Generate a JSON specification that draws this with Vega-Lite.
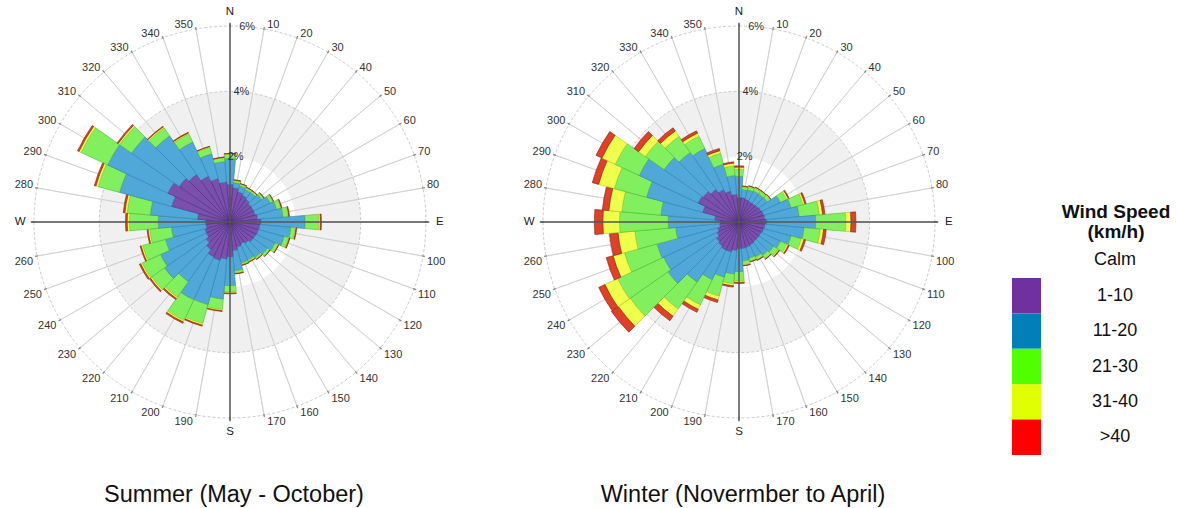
{
"$schema": "https://vega.github.io/schema/vega-lite/v6.json",
"padding": 0,
"background": "#ffffff",
"config": {"view": {"stroke": null}, "font": "Liberation Sans"},
"datasets": {
"rose": [
{"season":"Summer","dir":0,"1-10":1.15,"11-20":0.8,"21-30":0.12,"31-40":0.02,">40":0.01},
{"season":"Summer","dir":10,"1-10":1.05,"11-20":0.16,"21-30":0.07,"31-40":0.01,">40":0.01},
{"season":"Summer","dir":20,"1-10":0.95,"11-20":0.19,"21-30":0.06,"31-40":0.01,">40":0.01},
{"season":"Summer","dir":30,"1-10":0.9,"11-20":0.2,"21-30":0.06,"31-40":0.01,">40":0.01},
{"season":"Summer","dir":40,"1-10":0.85,"11-20":0.25,"21-30":0.06,"31-40":0.01,">40":0.01},
{"season":"Summer","dir":50,"1-10":0.8,"11-20":0.39,"21-30":0.07,"31-40":0.01,">40":0.01},
{"season":"Summer","dir":60,"1-10":0.8,"11-20":0.56,"21-30":0.09,"31-40":0.02,">40":0.01},
{"season":"Summer","dir":70,"1-10":0.8,"11-20":0.68,"21-30":0.13,"31-40":0.02,">40":0.02},
{"season":"Summer","dir":80,"1-10":0.85,"11-20":0.78,"21-30":0.16,"31-40":0.02,">40":0.02},
{"season":"Summer","dir":90,"1-10":0.95,"11-20":1.35,"21-30":0.42,"31-40":0.05,">40":0.03},
{"season":"Summer","dir":100,"1-10":0.92,"11-20":0.95,"21-30":0.14,"31-40":0.02,">40":0.02},
{"season":"Summer","dir":110,"1-10":0.9,"11-20":0.82,"21-30":0.14,"31-40":0.02,">40":0.02},
{"season":"Summer","dir":120,"1-10":0.88,"11-20":0.64,"21-30":0.1,"31-40":0.02,">40":0.01},
{"season":"Summer","dir":130,"1-10":0.87,"11-20":0.53,"21-30":0.08,"31-40":0.01,">40":0.01},
{"season":"Summer","dir":140,"1-10":0.8,"11-20":0.53,"21-30":0.06,"31-40":0.01,">40":0.01},
{"season":"Summer","dir":150,"1-10":0.75,"11-20":0.53,"21-30":0.06,"31-40":0.01,">40":0.01},
{"season":"Summer","dir":160,"1-10":0.8,"11-20":0.5,"21-30":0.06,"31-40":0.01,">40":0.01},
{"season":"Summer","dir":170,"1-10":0.88,"11-20":0.62,"21-30":0.08,"31-40":0.01,">40":0.01},
{"season":"Summer","dir":180,"1-10":1.07,"11-20":0.88,"21-30":0.2,"31-40":0.03,">40":0.02},
{"season":"Summer","dir":190,"1-10":1.14,"11-20":1.23,"21-30":0.32,"31-40":0.04,">40":0.02},
{"season":"Summer","dir":200,"1-10":1.22,"11-20":1.4,"21-30":0.6,"31-40":0.05,">40":0.03},
{"season":"Summer","dir":210,"1-10":1.18,"11-20":1.45,"21-30":0.7,"31-40":0.05,">40":0.04},
{"season":"Summer","dir":220,"1-10":1.03,"11-20":1.2,"21-30":0.58,"31-40":0.05,">40":0.04},
{"season":"Summer","dir":230,"1-10":0.9,"11-20":1.55,"21-30":0.48,"31-40":0.05,">40":0.04},
{"season":"Summer","dir":240,"1-10":0.8,"11-20":1.55,"21-30":0.62,"31-40":0.05,">40":0.04},
{"season":"Summer","dir":250,"1-10":0.8,"11-20":1.25,"21-30":0.72,"31-40":0.05,">40":0.03},
{"season":"Summer","dir":260,"1-10":0.74,"11-20":1.06,"21-30":0.67,"31-40":0.05,">40":0.03},
{"season":"Summer","dir":270,"1-10":0.75,"11-20":1.45,"21-30":0.88,"31-40":0.07,">40":0.05},
{"season":"Summer","dir":280,"1-10":1.0,"11-20":1.45,"21-30":0.71,"31-40":0.07,">40":0.05},
{"season":"Summer","dir":290,"1-10":1.85,"11-20":1.65,"21-30":0.68,"31-40":0.07,">40":0.05},
{"season":"Summer","dir":300,"1-10":2.1,"11-20":2.03,"21-30":0.9,"31-40":0.07,">40":0.05},
{"season":"Summer","dir":310,"1-10":1.9,"11-20":1.78,"21-30":0.45,"31-40":0.05,">40":0.04},
{"season":"Summer","dir":320,"1-10":1.78,"11-20":1.44,"21-30":0.3,"31-40":0.04,">40":0.02},
{"season":"Summer","dir":330,"1-10":1.55,"11-20":1.15,"21-30":0.28,"31-40":0.03,">40":0.02},
{"season":"Summer","dir":340,"1-10":1.38,"11-20":0.78,"21-30":0.21,"31-40":0.02,">40":0.01},
{"season":"Summer","dir":350,"1-10":1.23,"11-20":0.63,"21-30":0.12,"31-40":0.01,">40":0.01},
{"season":"Winter","dir":0,"1-10":0.75,"11-20":0.65,"21-30":0.22,"31-40":0.06,">40":0.04},
{"season":"Winter","dir":10,"1-10":0.75,"11-20":0.25,"21-30":0.08,"31-40":0.02,">40":0.01},
{"season":"Winter","dir":20,"1-10":0.72,"11-20":0.3,"21-30":0.1,"31-40":0.02,">40":0.01},
{"season":"Winter","dir":30,"1-10":0.7,"11-20":0.35,"21-30":0.1,"31-40":0.02,">40":0.01},
{"season":"Winter","dir":40,"1-10":0.7,"11-20":0.35,"21-30":0.1,"31-40":0.02,">40":0.01},
{"season":"Winter","dir":50,"1-10":0.72,"11-20":0.35,"21-30":0.1,"31-40":0.02,">40":0.01},
{"season":"Winter","dir":60,"1-10":0.75,"11-20":0.65,"21-30":0.22,"31-40":0.05,">40":0.03},
{"season":"Winter","dir":70,"1-10":0.78,"11-20":0.87,"21-30":0.38,"31-40":0.06,">40":0.04},
{"season":"Winter","dir":80,"1-10":0.8,"11-20":1.05,"21-30":0.62,"31-40":0.1,">40":0.07},
{"season":"Winter","dir":90,"1-10":0.85,"11-20":1.5,"21-30":0.92,"31-40":0.16,">40":0.15},
{"season":"Winter","dir":100,"1-10":0.8,"11-20":1.2,"21-30":0.5,"31-40":0.1,">40":0.08},
{"season":"Winter","dir":110,"1-10":0.78,"11-20":0.87,"21-30":0.33,"31-40":0.08,">40":0.05},
{"season":"Winter","dir":120,"1-10":0.75,"11-20":0.65,"21-30":0.22,"31-40":0.05,">40":0.03},
{"season":"Winter","dir":130,"1-10":0.75,"11-20":0.55,"21-30":0.17,"31-40":0.03,">40":0.02},
{"season":"Winter","dir":140,"1-10":0.75,"11-20":0.5,"21-30":0.12,"31-40":0.02,">40":0.01},
{"season":"Winter","dir":150,"1-10":0.78,"11-20":0.4,"21-30":0.1,"31-40":0.01,">40":0.01},
{"season":"Winter","dir":160,"1-10":0.8,"11-20":0.35,"21-30":0.1,"31-40":0.01,">40":0.01},
{"season":"Winter","dir":170,"1-10":0.82,"11-20":0.38,"21-30":0.12,"31-40":0.02,">40":0.01},
{"season":"Winter","dir":180,"1-10":0.82,"11-20":0.7,"21-30":0.28,"31-40":0.05,">40":0.03},
{"season":"Winter","dir":190,"1-10":0.88,"11-20":0.72,"21-30":0.3,"31-40":0.06,">40":0.04},
{"season":"Winter","dir":200,"1-10":0.95,"11-20":0.8,"21-30":0.6,"31-40":0.12,">40":0.08},
{"season":"Winter","dir":210,"1-10":0.95,"11-20":1.0,"21-30":0.85,"31-40":0.15,">40":0.1},
{"season":"Winter","dir":220,"1-10":0.9,"11-20":1.35,"21-30":1.0,"31-40":0.27,">40":0.17},
{"season":"Winter","dir":230,"1-10":0.85,"11-20":1.81,"21-30":1.41,"31-40":0.44,">40":0.26},
{"season":"Winter","dir":240,"1-10":0.75,"11-20":1.8,"21-30":1.55,"31-40":0.43,">40":0.21},
{"season":"Winter","dir":250,"1-10":0.68,"11-20":1.92,"21-30":1.03,"31-40":0.36,">40":0.22},
{"season":"Winter","dir":260,"1-10":0.6,"11-20":1.35,"21-30":1.25,"31-40":0.52,">40":0.26},
{"season":"Winter","dir":270,"1-10":0.58,"11-20":1.59,"21-30":1.49,"31-40":0.51,">40":0.26},
{"season":"Winter","dir":280,"1-10":0.75,"11-20":1.65,"21-30":1.2,"31-40":0.4,">40":0.2},
{"season":"Winter","dir":290,"1-10":1.15,"11-20":1.78,"21-30":1.02,"31-40":0.5,">40":0.2},
{"season":"Winter","dir":300,"1-10":1.38,"11-20":1.99,"21-30":0.81,"31-40":0.45,">40":0.2},
{"season":"Winter","dir":310,"1-10":1.33,"11-20":1.47,"21-30":0.7,"31-40":0.25,">40":0.17},
{"season":"Winter","dir":320,"1-10":1.22,"11-20":1.38,"21-30":0.6,"31-40":0.2,">40":0.12},
{"season":"Winter","dir":330,"1-10":1.1,"11-20":1.38,"21-30":0.42,"31-40":0.1,">40":0.08},
{"season":"Winter","dir":340,"1-10":0.98,"11-20":0.85,"21-30":0.35,"31-40":0.08,">40":0.07},
{"season":"Winter","dir":350,"1-10":0.85,"11-20":0.58,"21-30":0.3,"31-40":0.08,">40":0.04}
],
"rings": [{"pct":2,"label":"2%"},{"pct":4,"label":"4%"},{"pct":6,"label":"6%"}],
"compass": [{"dir":0,"label":"N"},{"dir":90,"label":"E"},{"dir":180,"label":"S"},{"dir":270,"label":"W"}],
"speeds": [{"speed":"Calm"},{"speed":"1-10"},{"speed":"11-20"},{"speed":"21-30"},{"speed":"31-40"},{"speed":">40"}]
},
"spacing": 43,
"hconcat": [
{"bounds": "flush", "spacing": 49, "hconcat": [
{
"width": 460, "height": 444,
"title": {"text": "Summer (May - October)", "orient": "bottom", "frame": "group", "anchor": "middle", "offset": 39, "dx": 4, "fontSize": 23.5, "fontWeight": "normal", "font": "Liberation Sans", "color": "#111111"},
"layer": [
{"data": {"name": "rings"}, "transform": [{"filter": "datum.pct === 4"}],
 "mark": {"type": "arc", "fill": "#f0f0f0"},
 "encoding": {
  "theta": {"datum": 0, "type": "quantitative", "scale": {"domain": [0, 360], "range": [0, 6.283185307179586]}},
  "theta2": {"datum": 360},
  "radius": {"field": "pct", "type": "quantitative", "stack": null, "scale": {"type": "linear", "domain": [0, 6], "range": [0, 196], "zero": true, "nice": false}},
  "radius2": {"datum": 2}}},
{"data": {"name": "rings"}, "transform": [{"filter": "datum.pct >= 4"}],
 "mark": {"type": "arc", "filled": false, "stroke": "#bdbdbd", "strokeWidth": 0.8, "strokeDash": [3, 2]},
 "encoding": {
  "theta": {"datum": 0, "type": "quantitative", "scale": {"domain": [0, 360], "range": [0, 6.283185307179586]}},
  "theta2": {"datum": 360},
  "radius": {"field": "pct", "type": "quantitative", "stack": null, "scale": {"type": "linear", "domain": [0, 6], "range": [0, 196], "zero": true, "nice": false}}}},
{"data": {"name": "rose"}, "transform": [{"filter": "datum.season === 'Summer'"}],
 "mark": {"type": "arc", "filled": false, "stroke": "#cfcfcf", "strokeWidth": 0.8},
 "encoding": {
  "theta": {"field": "dir", "type": "quantitative", "stack": null, "scale": {"domain": [0, 360], "range": [0, 6.283185307179586]}},
  "theta2": {"field": "dir"},
  "radius": {"datum": 6, "type": "quantitative", "scale": {"type": "linear", "domain": [0, 6], "range": [0, 196], "zero": true, "nice": false}},
  "radius2": {"datum": 0}}},
{"data": {"name": "rose"},
 "transform": [
  {"filter": "datum.season === 'Summer'"},
  {"fold": ["1-10", "11-20", "21-30", "31-40", ">40"], "as": ["speed", "pct"]},
  {"stack": "pct", "groupby": ["dir"], "sort": [{"field": "speed", "order": "ascending"}], "as": ["r0", "r1"]},
  {"calculate": "datum.dir - 5", "as": "t0"},
  {"calculate": "datum.dir + 5", "as": "t1"}],
 "mark": {"type": "arc", "strokeWidth": 0.6},
 "encoding": {
  "theta": {"field": "t0", "type": "quantitative", "stack": null, "scale": {"domain": [0, 360], "range": [0, 6.283185307179586]}},
  "theta2": {"field": "t1"},
  "radius": {"field": "r1", "type": "quantitative", "stack": null, "scale": {"type": "linear", "domain": [0, 6], "range": [0, 196], "zero": true, "nice": false}},
  "radius2": {"field": "r0"},
  "fill": {"field": "speed", "type": "nominal", "scale": {"domain": ["1-10", "11-20", "21-30", "31-40", ">40"], "range": ["#7b4fae", "#50a8d8", "#82f05e", "#eeff4c", "#e0402a"]}, "legend": null},
  "stroke": {"field": "speed", "type": "nominal", "scale": {"domain": ["1-10", "11-20", "21-30", "31-40", ">40"], "range": ["#4c2a7c", "#2f7fb0", "#4fb834", "#b9c224", "#7e2412"]}, "legend": null}}},
{"data": {"name": "rose"}, "transform": [{"filter": "datum.season === 'Summer'"}],
 "mark": {"type": "arc", "filled": false, "stroke": "#888888", "strokeWidth": 1.3},
 "encoding": {
  "theta": {"field": "dir", "type": "quantitative", "stack": null, "scale": {"domain": [0, 360], "range": [0, 6.283185307179586]}},
  "theta2": {"field": "dir"},
  "radius": {"datum": 6.06, "type": "quantitative", "scale": {"type": "linear", "domain": [0, 6], "range": [0, 196], "zero": true, "nice": false}},
  "radius2": {"datum": 5.97}}},
{"data": {"name": "compass"},
 "mark": {"type": "arc", "filled": false, "stroke": "#555555", "strokeWidth": 1.4},
 "encoding": {
  "theta": {"field": "dir", "type": "quantitative", "stack": null, "scale": {"domain": [0, 360], "range": [0, 6.283185307179586]}},
  "theta2": {"field": "dir"},
  "radius": {"datum": 6.1, "type": "quantitative", "scale": {"type": "linear", "domain": [0, 6], "range": [0, 196], "zero": true, "nice": false}},
  "radius2": {"datum": 0}}},
{"data": {"name": "rings"},
 "mark": {"type": "text", "fontSize": 11, "color": "#333333", "align": "center", "baseline": "middle"},
 "encoding": {
  "theta": {"datum": 5, "type": "quantitative", "scale": {"domain": [0, 360], "range": [0, 6.283185307179586]}},
  "radius": {"field": "pct", "type": "quantitative", "stack": null, "scale": {"type": "linear", "domain": [0, 6], "range": [0, 196], "zero": true, "nice": false}},
  "text": {"field": "label", "type": "nominal"}}},
{"data": {"name": "compass"},
 "mark": {"type": "text", "fontSize": 11.5, "color": "#222222", "align": "center", "baseline": "middle"},
 "encoding": {
  "theta": {"field": "dir", "type": "quantitative", "stack": null, "scale": {"domain": [0, 360], "range": [0, 6.283185307179586]}},
  "radius": {"datum": 6.42, "type": "quantitative", "scale": {"type": "linear", "domain": [0, 6], "range": [0, 196], "zero": true, "nice": false}},
  "text": {"field": "label", "type": "nominal"}}},
{"data": {"name": "rose"}, "transform": [{"filter": "datum.season === 'Summer' && datum.dir > 0 && datum.dir < 90"}],
 "mark": {"type": "text", "fontSize": 11, "color": "#333333", "align": "left", "baseline": "middle", "dx": 3, "dy": -3},
 "encoding": {
  "theta": {"field": "dir", "type": "quantitative", "stack": null, "scale": {"domain": [0, 360], "range": [0, 6.283185307179586]}},
  "radius": {"datum": 6.03, "type": "quantitative", "scale": {"type": "linear", "domain": [0, 6], "range": [0, 196], "zero": true, "nice": false}},
  "text": {"field": "dir", "type": "quantitative", "format": "d"}}},
{"data": {"name": "rose"}, "transform": [{"filter": "datum.season === 'Summer' && datum.dir > 90 && datum.dir < 180"}],
 "mark": {"type": "text", "fontSize": 11, "color": "#333333", "align": "left", "baseline": "middle", "dx": 3, "dy": 6},
 "encoding": {
  "theta": {"field": "dir", "type": "quantitative", "stack": null, "scale": {"domain": [0, 360], "range": [0, 6.283185307179586]}},
  "radius": {"datum": 6.03, "type": "quantitative", "scale": {"type": "linear", "domain": [0, 6], "range": [0, 196], "zero": true, "nice": false}},
  "text": {"field": "dir", "type": "quantitative", "format": "d"}}},
{"data": {"name": "rose"}, "transform": [{"filter": "datum.season === 'Summer' && datum.dir > 180 && datum.dir < 270"}],
 "mark": {"type": "text", "fontSize": 11, "color": "#333333", "align": "right", "baseline": "middle", "dx": -3, "dy": 6},
 "encoding": {
  "theta": {"field": "dir", "type": "quantitative", "stack": null, "scale": {"domain": [0, 360], "range": [0, 6.283185307179586]}},
  "radius": {"datum": 6.03, "type": "quantitative", "scale": {"type": "linear", "domain": [0, 6], "range": [0, 196], "zero": true, "nice": false}},
  "text": {"field": "dir", "type": "quantitative", "format": "d"}}},
{"data": {"name": "rose"}, "transform": [{"filter": "datum.season === 'Summer' && datum.dir > 270"}],
 "mark": {"type": "text", "fontSize": 11, "color": "#333333", "align": "right", "baseline": "middle", "dx": -3, "dy": -3},
 "encoding": {
  "theta": {"field": "dir", "type": "quantitative", "stack": null, "scale": {"domain": [0, 360], "range": [0, 6.283185307179586]}},
  "radius": {"datum": 6.03, "type": "quantitative", "scale": {"type": "linear", "domain": [0, 6], "range": [0, 196], "zero": true, "nice": false}},
  "text": {"field": "dir", "type": "quantitative", "format": "d"}}}
]
},
{
"width": 460, "height": 444,
"title": {"text": "Winter (Novermber to April)", "orient": "bottom", "frame": "group", "anchor": "middle", "offset": 39, "dx": 4, "fontSize": 23.5, "fontWeight": "normal", "font": "Liberation Sans", "color": "#111111"},
"layer": [
{"data": {"name": "rings"}, "transform": [{"filter": "datum.pct === 4"}],
 "mark": {"type": "arc", "fill": "#f0f0f0"},
 "encoding": {
  "theta": {"datum": 0, "type": "quantitative", "scale": {"domain": [0, 360], "range": [0, 6.283185307179586]}},
  "theta2": {"datum": 360},
  "radius": {"field": "pct", "type": "quantitative", "stack": null, "scale": {"type": "linear", "domain": [0, 6], "range": [0, 196], "zero": true, "nice": false}},
  "radius2": {"datum": 2}}},
{"data": {"name": "rings"}, "transform": [{"filter": "datum.pct >= 4"}],
 "mark": {"type": "arc", "filled": false, "stroke": "#bdbdbd", "strokeWidth": 0.8, "strokeDash": [3, 2]},
 "encoding": {
  "theta": {"datum": 0, "type": "quantitative", "scale": {"domain": [0, 360], "range": [0, 6.283185307179586]}},
  "theta2": {"datum": 360},
  "radius": {"field": "pct", "type": "quantitative", "stack": null, "scale": {"type": "linear", "domain": [0, 6], "range": [0, 196], "zero": true, "nice": false}}}},
{"data": {"name": "rose"}, "transform": [{"filter": "datum.season === 'Winter'"}],
 "mark": {"type": "arc", "filled": false, "stroke": "#cfcfcf", "strokeWidth": 0.8},
 "encoding": {
  "theta": {"field": "dir", "type": "quantitative", "stack": null, "scale": {"domain": [0, 360], "range": [0, 6.283185307179586]}},
  "theta2": {"field": "dir"},
  "radius": {"datum": 6, "type": "quantitative", "scale": {"type": "linear", "domain": [0, 6], "range": [0, 196], "zero": true, "nice": false}},
  "radius2": {"datum": 0}}},
{"data": {"name": "rose"},
 "transform": [
  {"filter": "datum.season === 'Winter'"},
  {"fold": ["1-10", "11-20", "21-30", "31-40", ">40"], "as": ["speed", "pct"]},
  {"stack": "pct", "groupby": ["dir"], "sort": [{"field": "speed", "order": "ascending"}], "as": ["r0", "r1"]},
  {"calculate": "datum.dir - 5", "as": "t0"},
  {"calculate": "datum.dir + 5", "as": "t1"}],
 "mark": {"type": "arc", "strokeWidth": 0.6},
 "encoding": {
  "theta": {"field": "t0", "type": "quantitative", "stack": null, "scale": {"domain": [0, 360], "range": [0, 6.283185307179586]}},
  "theta2": {"field": "t1"},
  "radius": {"field": "r1", "type": "quantitative", "stack": null, "scale": {"type": "linear", "domain": [0, 6], "range": [0, 196], "zero": true, "nice": false}},
  "radius2": {"field": "r0"},
  "fill": {"field": "speed", "type": "nominal", "scale": {"domain": ["1-10", "11-20", "21-30", "31-40", ">40"], "range": ["#7b4fae", "#50a8d8", "#82f05e", "#eeff4c", "#e0402a"]}, "legend": null},
  "stroke": {"field": "speed", "type": "nominal", "scale": {"domain": ["1-10", "11-20", "21-30", "31-40", ">40"], "range": ["#4c2a7c", "#2f7fb0", "#4fb834", "#b9c224", "#7e2412"]}, "legend": null}}},
{"data": {"name": "rose"}, "transform": [{"filter": "datum.season === 'Winter'"}],
 "mark": {"type": "arc", "filled": false, "stroke": "#888888", "strokeWidth": 1.3},
 "encoding": {
  "theta": {"field": "dir", "type": "quantitative", "stack": null, "scale": {"domain": [0, 360], "range": [0, 6.283185307179586]}},
  "theta2": {"field": "dir"},
  "radius": {"datum": 6.06, "type": "quantitative", "scale": {"type": "linear", "domain": [0, 6], "range": [0, 196], "zero": true, "nice": false}},
  "radius2": {"datum": 5.97}}},
{"data": {"name": "compass"},
 "mark": {"type": "arc", "filled": false, "stroke": "#555555", "strokeWidth": 1.4},
 "encoding": {
  "theta": {"field": "dir", "type": "quantitative", "stack": null, "scale": {"domain": [0, 360], "range": [0, 6.283185307179586]}},
  "theta2": {"field": "dir"},
  "radius": {"datum": 6.1, "type": "quantitative", "scale": {"type": "linear", "domain": [0, 6], "range": [0, 196], "zero": true, "nice": false}},
  "radius2": {"datum": 0}}},
{"data": {"name": "rings"},
 "mark": {"type": "text", "fontSize": 11, "color": "#333333", "align": "center", "baseline": "middle"},
 "encoding": {
  "theta": {"datum": 5, "type": "quantitative", "scale": {"domain": [0, 360], "range": [0, 6.283185307179586]}},
  "radius": {"field": "pct", "type": "quantitative", "stack": null, "scale": {"type": "linear", "domain": [0, 6], "range": [0, 196], "zero": true, "nice": false}},
  "text": {"field": "label", "type": "nominal"}}},
{"data": {"name": "compass"},
 "mark": {"type": "text", "fontSize": 11.5, "color": "#222222", "align": "center", "baseline": "middle"},
 "encoding": {
  "theta": {"field": "dir", "type": "quantitative", "stack": null, "scale": {"domain": [0, 360], "range": [0, 6.283185307179586]}},
  "radius": {"datum": 6.42, "type": "quantitative", "scale": {"type": "linear", "domain": [0, 6], "range": [0, 196], "zero": true, "nice": false}},
  "text": {"field": "label", "type": "nominal"}}},
{"data": {"name": "rose"}, "transform": [{"filter": "datum.season === 'Winter' && datum.dir > 0 && datum.dir < 90"}],
 "mark": {"type": "text", "fontSize": 11, "color": "#333333", "align": "left", "baseline": "middle", "dx": 3, "dy": -3},
 "encoding": {
  "theta": {"field": "dir", "type": "quantitative", "stack": null, "scale": {"domain": [0, 360], "range": [0, 6.283185307179586]}},
  "radius": {"datum": 6.03, "type": "quantitative", "scale": {"type": "linear", "domain": [0, 6], "range": [0, 196], "zero": true, "nice": false}},
  "text": {"field": "dir", "type": "quantitative", "format": "d"}}},
{"data": {"name": "rose"}, "transform": [{"filter": "datum.season === 'Winter' && datum.dir > 90 && datum.dir < 180"}],
 "mark": {"type": "text", "fontSize": 11, "color": "#333333", "align": "left", "baseline": "middle", "dx": 3, "dy": 6},
 "encoding": {
  "theta": {"field": "dir", "type": "quantitative", "stack": null, "scale": {"domain": [0, 360], "range": [0, 6.283185307179586]}},
  "radius": {"datum": 6.03, "type": "quantitative", "scale": {"type": "linear", "domain": [0, 6], "range": [0, 196], "zero": true, "nice": false}},
  "text": {"field": "dir", "type": "quantitative", "format": "d"}}},
{"data": {"name": "rose"}, "transform": [{"filter": "datum.season === 'Winter' && datum.dir > 180 && datum.dir < 270"}],
 "mark": {"type": "text", "fontSize": 11, "color": "#333333", "align": "right", "baseline": "middle", "dx": -3, "dy": 6},
 "encoding": {
  "theta": {"field": "dir", "type": "quantitative", "stack": null, "scale": {"domain": [0, 360], "range": [0, 6.283185307179586]}},
  "radius": {"datum": 6.03, "type": "quantitative", "scale": {"type": "linear", "domain": [0, 6], "range": [0, 196], "zero": true, "nice": false}},
  "text": {"field": "dir", "type": "quantitative", "format": "d"}}},
{"data": {"name": "rose"}, "transform": [{"filter": "datum.season === 'Winter' && datum.dir > 270"}],
 "mark": {"type": "text", "fontSize": 11, "color": "#333333", "align": "right", "baseline": "middle", "dx": -3, "dy": -3},
 "encoding": {
  "theta": {"field": "dir", "type": "quantitative", "stack": null, "scale": {"domain": [0, 360], "range": [0, 6.283185307179586]}},
  "radius": {"datum": 6.03, "type": "quantitative", "scale": {"type": "linear", "domain": [0, 6], "range": [0, 196], "zero": true, "nice": false}},
  "text": {"field": "dir", "type": "quantitative", "format": "d"}}}
]
}
]},
{
"width": 165, "height": 455,
"data": {"name": "speeds"},
"layer": [
{"transform": [{"filter": "datum.speed !== 'Calm'"}],
 "mark": {"type": "rect"},
 "encoding": {
  "y": {"field": "speed", "type": "nominal", "axis": null, "scale": {"domain": ["Calm", "1-10", "11-20", "21-30", "31-40", ">40"], "range": [242.6, 455], "paddingInner": 0, "paddingOuter": 0}},
  "x": {"datum": 0, "type": "quantitative", "axis": null, "scale": {"domain": [0, 165], "nice": false, "zero": false}},
  "x2": {"datum": 29},
  "color": {"field": "speed", "type": "nominal", "legend": null, "scale": {"domain": ["1-10", "11-20", "21-30", "31-40", ">40"], "range": ["#7030a0", "#007fb9", "#50ff00", "#e0ff00", "#ff0000"]}}}},
{"mark": {"type": "text", "fontSize": 18, "font": "Liberation Sans", "color": "#111111", "align": "center", "baseline": "middle"},
 "encoding": {
  "y": {"field": "speed", "type": "nominal", "axis": null, "scale": {"domain": ["Calm", "1-10", "11-20", "21-30", "31-40", ">40"], "range": [242.6, 455], "paddingInner": 0, "paddingOuter": 0}},
  "x": {"datum": 103, "type": "quantitative", "axis": null, "scale": {"domain": [0, 165], "nice": false, "zero": false}},
  "text": {"field": "speed", "type": "nominal"}}},
{"transform": [{"filter": "datum.speed === 'Calm'"}],
 "mark": {"type": "text", "text": "Wind Speed", "fontSize": 19, "fontWeight": "bold", "font": "Liberation Sans", "color": "#111111", "align": "center", "baseline": "middle", "dy": -48},
 "encoding": {
  "y": {"field": "speed", "type": "nominal", "axis": null, "scale": {"domain": ["Calm", "1-10", "11-20", "21-30", "31-40", ">40"], "range": [242.6, 455], "paddingInner": 0, "paddingOuter": 0}},
  "x": {"datum": 104, "type": "quantitative", "axis": null, "scale": {"domain": [0, 165], "nice": false, "zero": false}}}},
{"transform": [{"filter": "datum.speed === 'Calm'"}],
 "mark": {"type": "text", "text": "(km/h)", "fontSize": 19, "fontWeight": "bold", "font": "Liberation Sans", "color": "#111111", "align": "center", "baseline": "middle", "dy": -28},
 "encoding": {
  "y": {"field": "speed", "type": "nominal", "axis": null, "scale": {"domain": ["Calm", "1-10", "11-20", "21-30", "31-40", ">40"], "range": [242.6, 455], "paddingInner": 0, "paddingOuter": 0}},
  "x": {"datum": 104, "type": "quantitative", "axis": null, "scale": {"domain": [0, 165], "nice": false, "zero": false}}}}
]
}
]
}
